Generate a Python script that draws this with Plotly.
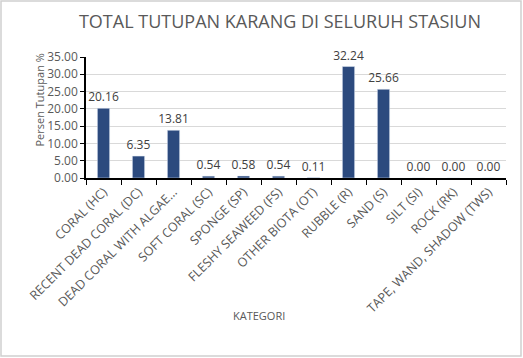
import plotly.graph_objects as go

categories = ["CORAL (HC)", "RECENT DEAD CORAL (DC)", "DEAD CORAL WITH ALGAE...",
              "SOFT CORAL (SC)", "SPONGE (SP)", "FLESHY SEAWEED (FS)",
              "OTHER BIOTA (OT)", "RUBBLE (R)", "SAND (S)", "SILT (SI)",
              "ROCK (RK)", "TAPE, WAND, SHADOW (TWS)"]
values = [20.16, 6.35, 13.81, 0.54, 0.58, 0.54, 0.11, 32.24, 25.66, 0.00, 0.00, 0.00]
y_ticks = [0, 5, 10, 15, 20, 25, 30, 35]

W, H = 523, 358
L, R, T, B = 86, 17, 57, 180
pw, ph = W - L - R, H - T - B

def px(x):
    return (x - L) / pw

def py(y):
    return (H - B - y) / ph

font = "Open Sans"
fig = go.Figure(go.Bar(
    x=categories, y=values, marker_color="#2C4A7E",
    text=[f"{v:.2f}" for v in values], textposition="outside", constraintext="none",
    textfont=dict(family=font, size=12, color="#404040"),
    cliponaxis=False, width=0.35,
))

fig.update_layout(
    width=W, height=H, margin=dict(l=L, r=R, t=T, b=B, autoexpand=False),
    paper_bgcolor="white", plot_bgcolor="white", showlegend=False,
    font=dict(family=font, color="#595959"),
    title=dict(text="TOTAL TUTUPAN KARANG DI SELURUH STASIUN", x=(280) / W, xanchor="center",
               y=1 - 22 / H, yanchor="middle", automargin=False,
               font=dict(size=18, color="#595959", family=font)),
    xaxis=dict(type="category", tickangle=-45, tickson="boundaries", ticks="outside", ticklen=5,
               tickcolor="black", showline=True, linecolor="black", linewidth=1.5, automargin=False,
               tickfont=dict(size=12.5, color="#595959", family=font), showgrid=False),
    yaxis=dict(range=[0, 35], tickvals=y_ticks, ticktext=[f"{v:.2f}" for v in y_ticks],
               ticks="outside", ticklen=4, tickcolor="black", showline=True, linecolor="black",
               linewidth=1.5, gridcolor="#D9D9D9", zeroline=False, automargin=False,
               tickfont=dict(size=12, color="#595959", family=font)),
    annotations=[
        dict(text="Persen Tutupan %", textangle=-90, x=px(29), y=py(100), xref="paper", yref="paper",
             showarrow=False, font=dict(size=11, color="#595959", family=font)),
        dict(text="KATEGORI", x=px(259), y=py(325), xref="paper", yref="paper",
             showarrow=False, font=dict(size=11, color="#595959", family=font)),
    ],
    shapes=[dict(type="rect", xref="paper", yref="paper", x0=px(1), x1=px(521), y0=py(356), y1=py(1),
                 line=dict(color="#D0D0D0", width=1.5), layer="above")],
)

fig.write_html("out.html", config={"displayModeBar": False},
               post_script="document.body.style.margin='0';document.body.style.overflow='hidden';")
